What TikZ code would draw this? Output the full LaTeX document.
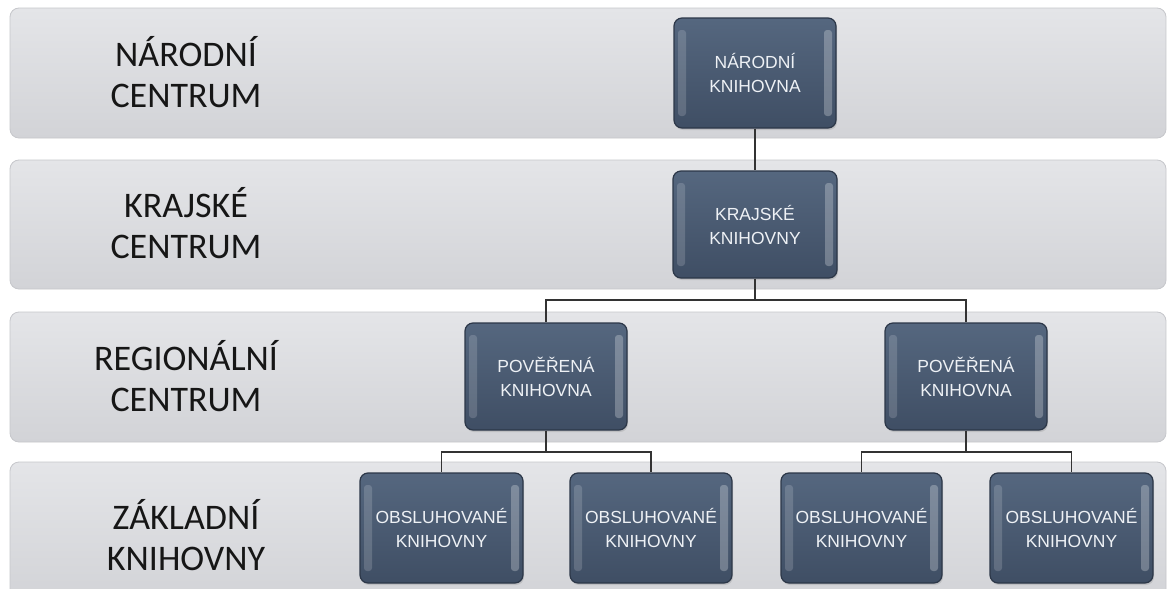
\documentclass[tikz,border=0pt]{standalone}
\usepackage{fontspec}
\setmainfont{Carlito}
\newfontfamily\boxfont{Liberation Sans}
\usetikzlibrary{shadows}
\definecolor{bandtop}{HTML}{E4E5E8}
\definecolor{bandbot}{HTML}{D2D3D7}
\definecolor{bandline}{HTML}{C6C7CB}
\definecolor{boxtop}{HTML}{55677F}
\definecolor{boxbot}{HTML}{3F4E64}
\definecolor{boxline}{HTML}{2C3748}
\definecolor{boxtext}{HTML}{EEF1F5}
\definecolor{linkcol}{HTML}{333333}
\definecolor{labelcol}{HTML}{161616}
\tikzset{
  band/.style={rounded corners=9pt, top color=bandtop, bottom color=bandbot, draw=bandline, line width=0.8pt},
  levellabel/.style={align=center, text=labelcol, font=\fontsize{36}{41}\selectfont},
  orgbox/.style={rounded corners=8pt, top color=boxtop, bottom color=boxbot, draw=boxline, line width=1.2pt,
    minimum width=162pt, minimum height=108pt, inner sep=0pt, align=center, text=boxtext,
    font=\boxfont\fontsize{17.5}{24}\selectfont,
    drop shadow={opacity=0.25, shadow xshift=1pt, shadow yshift=-2pt},
    path picture={
      \fill[white, opacity=0.16, rounded corners=3pt]
        ([xshift=4pt, yshift=12pt]path picture bounding box.south west) rectangle
        ([xshift=12pt, yshift=-12pt]path picture bounding box.north west);
      \fill[white, opacity=0.26, rounded corners=3pt]
        ([xshift=-12pt, yshift=12pt]path picture bounding box.south east) rectangle
        ([xshift=-4pt, yshift=-12pt]path picture bounding box.north east);
    }},
  link/.style={draw=linkcol, line width=1.6pt}
}
\begin{document}
\begin{tikzpicture}[x=1pt, y=-1pt]
\useasboundingbox[fill=white] (0,0) rectangle (1168,589);
\begin{scope}
\clip (0,0) rectangle (1168,589);
% bands
\path[band] (10,8) rectangle (1166,138);
\path[band] (10,160) rectangle (1166,289);
\path[band] (10,312) rectangle (1166,442);
\path[band] (10,462) rectangle (1166,600);
\end{scope}

% level labels
\node[levellabel] (l1) at (186,72) {NÁRODNÍ\\CENTRUM};
\node[levellabel] (l2) at (186,223) {KRAJSKÉ\\CENTRUM};
\node[levellabel] (l3) at (186,376) {REGIONÁLNÍ\\CENTRUM};
\node[levellabel] (l4) at (186,535) {ZÁKLADNÍ\\KNIHOVNY};

% junctions
\coordinate (j1) at (755,300);
\coordinate (j2) at (546,452);
\coordinate (j3) at (966,452);

\node[orgbox, minimum height=110pt] (nk) at (755,73) {NÁRODNÍ\\KNIHOVNA};
\node[orgbox, minimum width=164pt, minimum height=107pt] (kk) at (755,224.5) {KRAJSKÉ\\KNIHOVNY};
\node[orgbox, minimum height=107pt] (p1) at (546,376.5) {POVĚŘENÁ\\KNIHOVNA};
\node[orgbox, minimum height=107pt] (p2) at (966,376.5) {POVĚŘENÁ\\KNIHOVNA};
\node[orgbox, minimum width=163pt, minimum height=110pt] (o1) at (441.5,528) {OBSLUHOVANÉ\\KNIHOVNY};
\node[orgbox, minimum width=162pt, minimum height=110pt] (o2) at (651,528) {OBSLUHOVANÉ\\KNIHOVNY};
\node[orgbox, minimum width=161pt, minimum height=110pt] (o3) at (861.5,528) {OBSLUHOVANÉ\\KNIHOVNY};
\node[orgbox, minimum width=163pt, minimum height=110pt] (o4) at (1071.5,528) {OBSLUHOVANÉ\\KNIHOVNY};

\draw[link] (nk.south) -- (kk.north);
\draw[link] (kk.south) -- (j1);
\draw[link] (j1) -| (p1.north);
\draw[link] (j1) -| (p2.north);
\draw[link] (p1.south) -- (j2);
\draw[link] (j2) -| (o1.north);
\draw[link] (j2) -| (o2.north);
\draw[link] (p2.south) -- (j3);
\draw[link] (j3) -| (o3.north);
\draw[link] (j3) -| (o4.north);
\end{tikzpicture}
\end{document}
